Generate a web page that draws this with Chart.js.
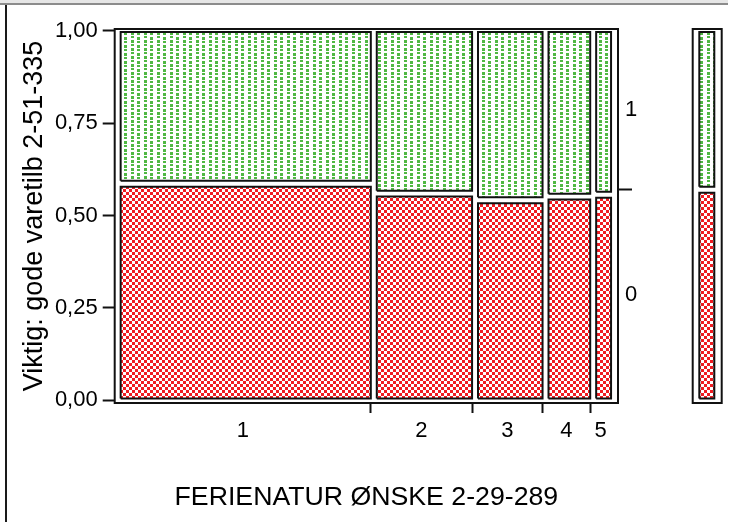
<!DOCTYPE html>
<html>
<head>
<meta charset="utf-8">
<script src="https://cdn.jsdelivr.net/npm/chart.js@4.4.1/dist/chart.umd.min.js"></script>
<style>
  html, body { margin: 0; padding: 0; background: #fff; }
  #wrap { position: relative; width: 731px; height: 522px; overflow: hidden; background: #fff; }
  #winTop { position: absolute; left: 0; top: 0; width: 728px; height: 3px; background: #e6e6e6; border-bottom: 2px solid #8c8c8c; }
  #winLeft { position: absolute; left: 5px; top: 5px; width: 2px; height: 517px; background: #1a1a1a; }
  #mosaic { position: absolute; left: 0; top: 0; }
  #margin { position: absolute; left: 680px; top: 0; }
</style>
</head>
<body>
<div id="wrap">
  <div id="winTop"></div>
  <div id="winLeft"></div>
  <canvas id="mosaic" width="731" height="522"></canvas>
  <canvas id="margin" width="51" height="522"></canvas>
</div>
<script>
// column groups of FERIENATUR and their share of all answers
const groups = ['1', '2', '3', '4', '5'];
const groupShare = [0.516, 0.204, 0.142, 0.096, 0.042];
// share answering "0" inside each group (rest is "1")
const zeroShare = [0.586, 0.559, 0.541, 0.551, 0.556];
const levels = ['0', '1'];
const yTicks = [0, 0.25, 0.5, 0.75, 1];

// spacing between tiles, in axis units
const gapX = 0.012;
const edgeX = 0.014;
const gapY = 0.008;
const lowY = -0.008;
const highY = 1.005;

Chart.defaults.font.family = '"Liberation Sans", Arial, sans-serif';
Chart.defaults.color = '#000';

function makePattern(kind) {
  const c = document.createElement('canvas');
  const g = c.getContext('2d');
  if (kind === 'red') {
    c.width = 6; c.height = 6;
    g.fillStyle = '#fff'; g.fillRect(0, 0, 6, 6);
    g.fillStyle = '#f01c22';
    g.fillRect(0, 0, 3, 3); g.fillRect(3, 3, 3, 3);
  } else {
    // staggered green dots
    c.width = 13; c.height = 8;
    g.fillStyle = '#fff'; g.fillRect(0, 0, 13, 8);
    g.fillStyle = '#50b843';
    g.fillRect(1, 0, 3, 3); g.fillRect(1, 4, 3, 2);
    g.fillRect(7, 1, 3, 2); g.fillRect(7, 5, 3, 3);
  }
  return g.createPattern(c, 'repeat');
}
const redFill = makePattern('red');
const greenFill = makePattern('green');

function tile(x0, x1, y0, y1, fillStyle) {
  return {
    data: [{x: x0, y: y0}, {x: x1, y: y0}, {x: x1, y: y1}, {x: x0, y: y1}, {x: x0, y: y0}],
    fill: 'shape',
    backgroundColor: fillStyle,
    borderColor: '#111',
    borderWidth: 2,
    pointRadius: 0,
    tension: 0,
  };
}

// cumulative column edges
const edges = [0];
groupShare.forEach((s, i) => edges.push(edges[i] + s));
const centers = groupShare.map((s, i) => edges[i] + s / 2);
const overallZero = groupShare.reduce((sum, s, i) => sum + s * zeroShare[i], 0);

const datasets = [];
groups.forEach((g, i) => {
  const x0 = edges[i] + gapX;
  const x1 = edges[i + 1];
  datasets.push(tile(x0, x1, 0.004, zeroShare[i] - gapY, redFill));
  datasets.push(tile(x0, x1, zeroShare[i] + gapY, 0.997, greenFill));
});

// plot frame around the chart area
const framePlugin = {
  id: 'frame',
  beforeDatasetsDraw(chart) {
    const {ctx, chartArea: a} = chart;
    ctx.save();
    ctx.strokeStyle = '#111';
    ctx.lineWidth = 2;
    ctx.strokeRect(a.left, a.top, a.right - a.left, a.bottom - a.top);
    ctx.restore();
  },
};

const xLabelAt = new Map(centers.map((c, i) => [c, groups[i]]));
const levelTicks = [overallZero / 2, overallZero, (1 + overallZero) / 2];

new Chart(document.getElementById('mosaic'), {
  type: 'line',
  data: { datasets },
  options: {
    responsive: false,
    animation: false,
    events: [],
    layout: { padding: { top: 29, left: 0, right: 0, bottom: 0 } },
    plugins: { legend: { display: false }, tooltip: { enabled: false } },
    scales: {
      x: {
        type: 'linear',
        min: 0,
        max: 1 + edgeX,
        afterBuildTicks: (scale) => {
          const vals = [...centers, ...edges.slice(1, -1)].sort((a, b) => a - b);
          scale.ticks = vals.map((v) => ({ value: v }));
        },
        afterFit: (scale) => { scale.height = 119; },
        ticks: {
          autoSkip: false,
          maxRotation: 0,
          padding: 5,
          font: { size: 22 },
          callback: (v) => xLabelAt.get(v) || '',
        },
        grid: {
          drawOnChartArea: false,
          tickLength: 10,
          tickWidth: 2,
          tickColor: (ctx) => (ctx.tick && xLabelAt.has(ctx.tick.value) ? 'rgba(0,0,0,0)' : '#111'),
        },
        border: { display: false },
        title: {
          display: true,
          text: 'FERIENATUR ØNSKE 2-29-289',
          font: { size: 26.7 },
          padding: { top: 0, bottom: 8 },
        },
      },
      y: {
        type: 'linear',
        position: 'left',
        min: lowY,
        max: highY,
        afterBuildTicks: (scale) => { scale.ticks = yTicks.map((v) => ({ value: v })); },
        afterFit: (scale) => { scale.width = 114.7; },
        ticks: {
          padding: 5,
          font: { size: 22 },
          callback: (v) => v.toFixed(2).replace('.', ','),
        },
        grid: { drawOnChartArea: false, tickLength: 12, tickWidth: 2, tickColor: '#111' },
        border: { display: false },
        title: {
          display: true,
          text: 'Viktig: gode varetilb 2-51-335',
          font: { size: 27 },
          padding: { top: 18, bottom: 0 },
        },
      },
      y2: {
        type: 'linear',
        position: 'right',
        min: lowY,
        max: highY,
        afterBuildTicks: (scale) => { scale.ticks = levelTicks.map((v) => ({ value: v })); },
        afterFit: (scale) => { scale.width = 113; },
        ticks: {
          padding: -7,
          font: { size: 22 },
          callback: (v, i) => (i === 0 ? levels[0] : i === 2 ? levels[1] : ''),
        },
        grid: {
          drawOnChartArea: false,
          tickLength: 14,
          tickWidth: 2,
          tickColor: (ctx) => (ctx.index === 1 ? '#111' : 'rgba(0,0,0,0)'),
        },
        border: { display: false },
      },
    },
  },
  plugins: [framePlugin],
});

// overall split of "0" and "1" beside the mosaic
const barLeft = 0.228;
const barRight = 0.745;
new Chart(document.getElementById('margin'), {
  type: 'line',
  data: {
    datasets: [
      tile(barLeft, barRight, 0.004, overallZero - gapY, redFill),
      tile(barLeft, barRight, overallZero + gapY, 0.997, greenFill),
    ],
  },
  options: {
    responsive: false,
    animation: false,
    events: [],
    layout: { padding: { top: 29, left: 12.7, right: 9.3, bottom: 119 } },
    plugins: { legend: { display: false }, tooltip: { enabled: false } },
    scales: {
      x: { type: 'linear', min: 0, max: 1, display: false },
      y: { type: 'linear', min: lowY, max: highY, display: false },
    },
  },
  plugins: [framePlugin],
});
</script>
</body>
</html>
